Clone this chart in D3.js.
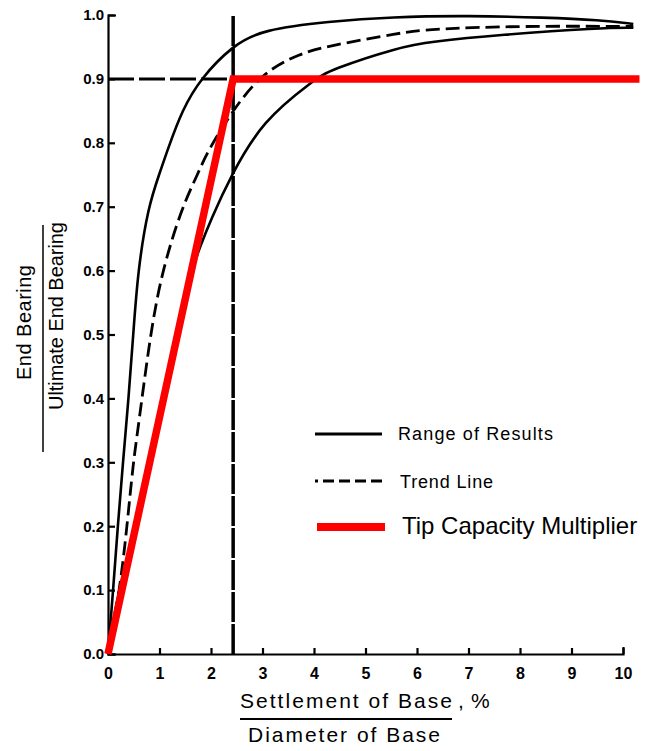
<!DOCTYPE html>
<html>
<head>
<meta charset="utf-8">
<script src="https://cdn.jsdelivr.net/npm/d3@7"></script>
<style>
    body { margin: 0; background: #fff; }
    text { font-family: "Liberation Sans", Arial, sans-serif; }
</style>
</head>
<body>
<div id="chart"></div>
<script>
// tick values
const xTicks = [0, 1, 2, 3, 4, 5, 6, 7, 8, 9, 10];
const yTicks = [0, 0.1, 0.2, 0.3, 0.4, 0.5, 0.6, 0.7, 0.8, 0.9, 1.0];

// curves: [settlement %, end bearing ratio]
const upperRange = [[0, 0], [0.1, 0.1], [0.19, 0.2], [0.29, 0.3], [0.4, 0.4], [0.49, 0.5], [0.58, 0.6],
    [0.78, 0.7], [1.0, 0.752], [1.17, 0.792], [1.44, 0.851], [1.79, 0.9], [2.43, 0.953], [3.0, 0.977],
    [4.3, 0.99], [5.5, 0.997], [7.0, 0.999], [8.5, 0.996], [9.55, 0.992], [10.2, 0.986]];
const lowerRange = [[0, 0], [0.2, 0.1], [0.45, 0.17], [0.8, 0.29], [1.1, 0.4], [1.35, 0.5], [1.62, 0.6],
    [1.8, 0.64], [2.0, 0.68], [2.37, 0.746], [3.0, 0.835], [4.0, 0.898], [4.3, 0.914], [5.67, 0.95],
    [6.25, 0.958], [7.6, 0.969], [9.55, 0.98], [10.2, 0.98]];
const trendLine = [[0, 0], [0.23, 0.1], [0.37, 0.2], [0.49, 0.3], [0.58, 0.35], [0.82, 0.5], [1.05, 0.6],
    [1.44, 0.7], [1.75, 0.752], [1.92, 0.785], [2.43, 0.852], [3.0, 0.91], [3.73, 0.94], [4.3, 0.952],
    [5.67, 0.972], [6.25, 0.978], [8.0, 0.983], [10.2, 0.982]];
const tipMultiplier = [[0, 0], [2.43, 0.9], [10.32, 0.9]];

// reference point (dashed guides)
const refX = 2.43;
const refY = 0.9;

const legendLabels = ["Range of Results", "Trend Line", "Tip Capacity Multiplier"];

const width = 645, height = 751;

const svg = d3.select("#chart").append("svg")
    .attr("width", width)
    .attr("height", height);

svg.append("rect").attr("width", width).attr("height", height).attr("fill", "#fff");

const x = d3.scaleLinear().domain([0, 10]).range([108, 623]);
const y = d3.scaleLinear().domain([0, 1]).range([654, 15]);

// axes, ticks pointing inwards
const yAxis = svg.append("g")
    .attr("transform", `translate(${x(0)},0)`)
    .call(d3.axisLeft(y).tickValues(yTicks).tickSizeInner(-7).tickSizeOuter(-8)
        .tickPadding(4).tickFormat(d3.format(".1f")));

const xAxis = svg.append("g")
    .attr("transform", `translate(0,${y(0)})`)
    .call(d3.axisBottom(x).tickValues(xTicks).tickSizeInner(-6).tickSizeOuter(-7)
        .tickPadding(14).tickFormat(d3.format("d")));

[yAxis, xAxis].forEach(g => {
    g.attr("font-family", null).attr("font-size", null);
    g.selectAll("path, line").attr("stroke", "#000").attr("stroke-width", 2.2);
    g.selectAll("text")
        .style("font-size", "15px")
        .style("font-weight", "bold")
        .attr("fill", "#000");
});
xAxis.selectAll("text").style("font-size", "16px");

// dashed guide lines
svg.append("line")
    .attr("x1", x(0)).attr("x2", x(refX))
    .attr("y1", y(refY)).attr("y2", y(refY))
    .attr("stroke", "#000").attr("stroke-width", 3)
    .attr("stroke-dasharray", "26,5");

svg.append("line")
    .attr("x1", x(refX)).attr("x2", x(refX))
    .attr("y1", y(0)).attr("y2", y(1))
    .attr("stroke", "#000").attr("stroke-width", 3.5)
    .attr("stroke-dasharray", "30,2");

const line = d3.line()
    .x(d => x(d[0]))
    .y(d => y(d[1]))
    .curve(d3.curveBasis);

svg.append("path").datum(upperRange)
    .attr("d", line)
    .attr("fill", "none").attr("stroke", "#000").attr("stroke-width", 2.6);

svg.append("path").datum(lowerRange)
    .attr("d", line)
    .attr("fill", "none").attr("stroke", "#000").attr("stroke-width", 2.6);

svg.append("path").datum(trendLine)
    .attr("d", line)
    .attr("fill", "none").attr("stroke", "#000").attr("stroke-width", 2.8)
    .attr("stroke-dasharray", "14,6");

svg.append("path").datum(tipMultiplier)
    .attr("d", d3.line().x(d => x(d[0])).y(d => y(d[1])))
    .attr("fill", "none").attr("stroke", "#ff0000").attr("stroke-width", 7.5)
    .attr("stroke-linejoin", "miter");

// legend
const legend = svg.append("g");

legend.append("line")
    .attr("x1", 315).attr("x2", 382).attr("y1", 434).attr("y2", 434)
    .attr("stroke", "#000").attr("stroke-width", 2.8);
legend.append("text")
    .attr("x", 398).attr("y", 440)
    .attr("textLength", 155).attr("lengthAdjust", "spacing")
    .style("font-size", "18px")
    .text(legendLabels[0]);

legend.append("line")
    .attr("x1", 315).attr("x2", 382).attr("y1", 481).attr("y2", 481)
    .attr("stroke", "#000").attr("stroke-width", 2.8)
    .attr("stroke-dasharray", "11,5")
    .attr("stroke-dashoffset", 8);
legend.append("text")
    .attr("x", 400).attr("y", 488)
    .attr("textLength", 93).attr("lengthAdjust", "spacing")
    .style("font-size", "18px")
    .text(legendLabels[1]);

legend.append("line")
    .attr("x1", 317).attr("x2", 385).attr("y1", 527).attr("y2", 527)
    .attr("stroke", "#ff0000").attr("stroke-width", 8);
legend.append("text")
    .attr("x", 402).attr("y", 534)
    .style("font-size", "24px")
    .text(legendLabels[2]);

// x axis title (fraction)
svg.append("text")
    .attr("x", 240).attr("y", 708)
    .attr("textLength", 212).attr("lengthAdjust", "spacing")
    .style("font-size", "21px")
    .text("Settlement of Base");
svg.append("line")
    .attr("x1", 240).attr("x2", 452).attr("y1", 719).attr("y2", 719)
    .attr("stroke", "#000").attr("stroke-width", 2);
svg.append("text")
    .attr("x", 458).attr("y", 708)
    .style("font-size", "21px")
    .text(",");
svg.append("text")
    .attr("x", 471).attr("y", 708)
    .style("font-size", "21px")
    .text("%");
svg.append("text")
    .attr("x", 248).attr("y", 742)
    .attr("textLength", 192).attr("lengthAdjust", "spacing")
    .style("font-size", "21px")
    .text("Diameter of Base");

// y axis title (fraction)
svg.append("text")
    .attr("transform", "translate(31,380) rotate(-90)")
    .attr("textLength", 115).attr("lengthAdjust", "spacing")
    .style("font-size", "20px")
    .text("End Bearing");
svg.append("line")
    .attr("x1", 43).attr("x2", 43).attr("y1", 225).attr("y2", 452)
    .attr("stroke", "#000").attr("stroke-width", 1.5);
svg.append("text")
    .attr("transform", "translate(63,410) rotate(-90)")
    .attr("textLength", 188).attr("lengthAdjust", "spacing")
    .style("font-size", "20px")
    .text("Ultimate End Bearing");
</script>
</body>
</html>
